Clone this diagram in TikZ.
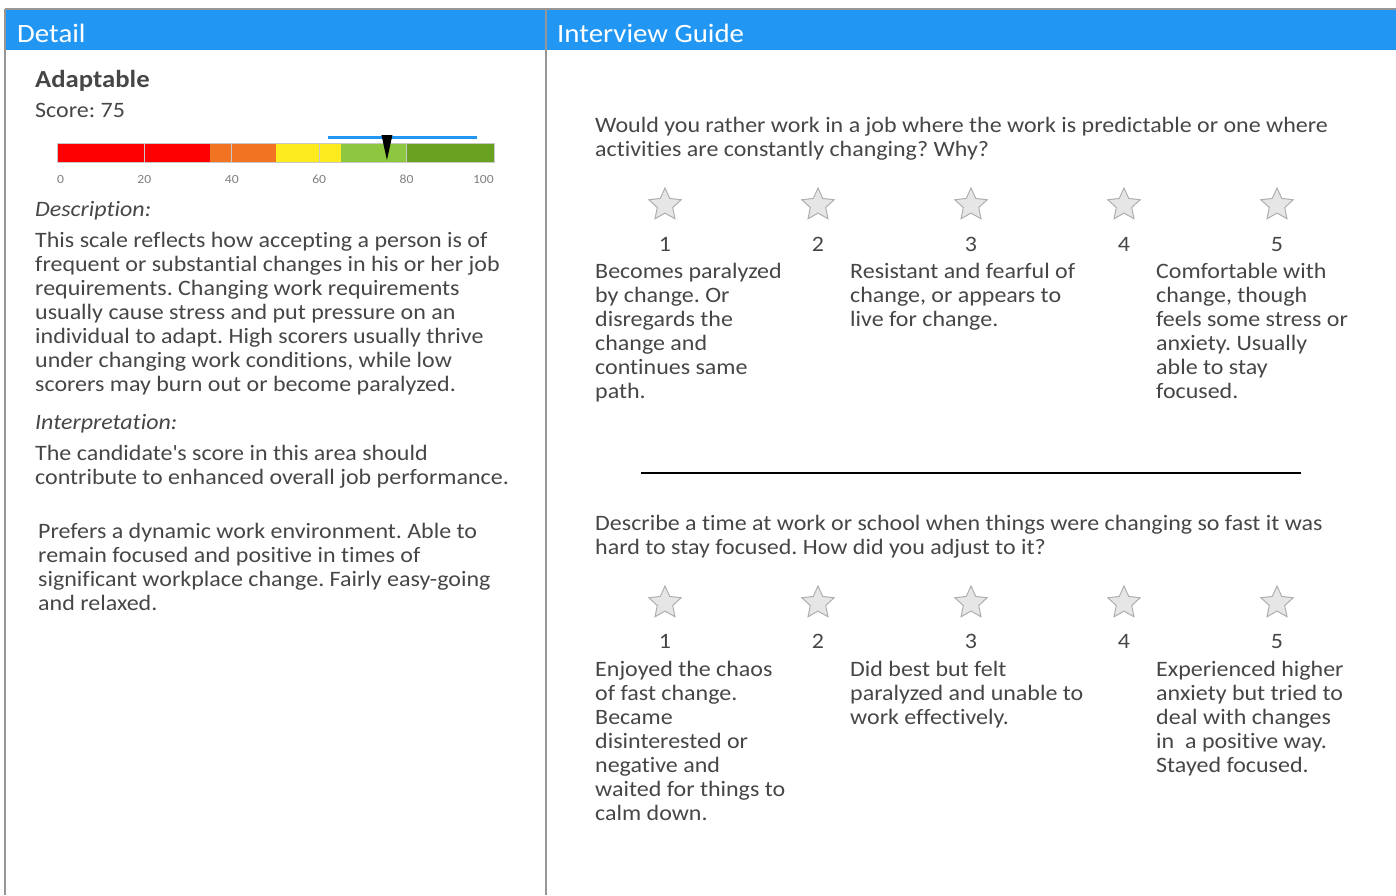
\documentclass[tikz,border=0pt]{standalone}
\usepackage{fontspec}
\setmainfont{Carlito}[Ligatures={TeX,NoCommon}, FakeStretch=1.09]
\usetikzlibrary{shapes.geometric, positioning}
\frenchspacing

\definecolor{headblue}{RGB}{33,150,243}
\definecolor{textgray}{RGB}{70,70,70}
\definecolor{framegray}{RGB}{150,150,150}
\definecolor{tickgray}{RGB}{128,128,128}
\definecolor{gridgray}{RGB}{200,200,200}
\definecolor{stargray}{RGB}{175,175,175}
\definecolor{starfill}{RGB}{230,230,230}
\definecolor{gred}{RGB}{255,0,0}
\definecolor{gorange}{RGB}{242,115,34}
\definecolor{gyellow}{RGB}{253,235,32}
\definecolor{glight}{RGB}{141,198,63}
\definecolor{gdark}{RGB}{105,161,33}

\begin{document}
\begin{tikzpicture}[
  x=1pt, y=-1pt,
  % Text styles
  panel title/.style={
    anchor=base west, inner sep=0pt, text=white,
    font=\fontsize{26.5}{30}\selectfont,
  },
  line label/.style={
    anchor=base west, inner sep=0pt, text=textgray,
    font=\fontsize{22}{24}\selectfont,
  },
  section head/.style={
    line label, font=\fontsize{22}{24}\selectfont\itshape,
  },
  body text/.style={
    anchor=north west, inner sep=0pt, align=left, text=textgray,
    font=\fontsize{22}{24}\selectfont, execute at begin node=\strut,
  },
  tick label/.style={
    anchor=base, inner sep=0pt, text=tickgray,
    font=\fontsize{12.5}{15}\selectfont,
  },
  % Rating row
  rating star/.style={
    star, star points=5, star point ratio=2.1, minimum size=34pt,
    inner sep=0pt, draw=stargray, fill=starfill, line width=1pt,
  },
  rating num/.style={
    anchor=base, inner sep=0pt, text=textgray,
    font=\fontsize{22}{24}\selectfont,
  },
]
\useasboundingbox (0,0) rectangle (1396,895);

% --- Frame and header bar ---
\fill[headblue] (5,10) rectangle (1396,50);
\draw[framegray, line width=2pt] (5,9) -- (1396,9);
\draw[framegray, line width=1.5pt] (5,9) -- (5,895);
\draw[framegray, line width=1.5pt] (546,9) -- (546,895);

\node[panel title] (detail) at (17,42) {Detail};
\node[panel title] (guide) at (557,42) {Interview Guide};

% --- Left panel ---
\node[line label, font=\fontsize{24.5}{28}\selectfont\bfseries] (trait) at (35,87) {Adaptable};
\node[line label] (score) at (35,117) {Score: 75};

% gauge, in units of score
\begin{scope}[shift={(57,0)}, x=4.37pt]
  \foreach \a/\b/\c in {0/35/gred, 35/50/gorange, 50/65/gyellow, 65/80/glight, 80/100/gdark}
    \fill[\c] (\a,143) rectangle (\b,162);
  \foreach \v in {20,40,60,80}
    \draw[gridgray, line width=1pt] (\v,143) -- (\v,162);
  \draw[gridgray, line width=1pt] (0,143) rectangle (100,162);
  \draw[headblue, line width=3pt] (62,137.5) -- (96,137.5);
  \coordinate (mark) at (75.5,135);
  \fill[black] ([xshift=-5.5pt]mark) -- ([xshift=5.5pt]mark) -- ([yshift=-25pt]mark) -- cycle;

  \node[tick label, anchor=base west] (t0) at (0,183.5) {0};
  \foreach \v in {20,40,60,80}
    \node[tick label] (t\v) at (\v,183.5) {\v};
  \node[tick label, anchor=base east] (t100) at (100,183.5) {100};
\end{scope}

\node[section head] (desc head) at (35,216) {Description:};
\node[body text] (desc) at (35,232) {This scale reflects how accepting a person is of\\
  frequent or substantial changes in his or her job\\
  requirements. Changing work requirements\\
  usually cause stress and put pressure on an\\
  individual to adapt. High scorers usually thrive\\
  under changing work conditions, while low\\
  scorers may burn out or become paralyzed.};

\node[section head] (interp head) at (35,429) {Interpretation:};
\node[body text] (interp) at (35,445) {The candidate\textquotesingle s score in this area should\\
  contribute to enhanced overall job performance.};

\node[body text] (summary) at (38,523) {Prefers a dynamic work environment. Able to\\
  remain focused and positive in times of\\
  significant workplace change. Fairly easy-going\\
  and relaxed.};

% --- Right panel: question 1 ---
\node[body text] (qa) at (595,117) {Would you rather work in a job where the work is predictable or one where\\
  activities are constantly changing? Why?};

\foreach \i [evaluate=\i as \x using 512+153*\i] in {1,...,5} {
  \node[rating star] (qa-star-\i) at (\x,205) {};
  \node[rating num] (qa-num-\i) at (\x,251) {\i};
}

\node[body text] (qa-low) at (595,263) {Becomes paralyzed\\ by change. Or\\ disregards the\\ change and\\ continues same\\ path.};
\node[body text] (qa-mid) at (850,263) {Resistant and fearful of\\ change, or appears to\\ live for change.};
\node[body text] (qa-high) at (1156,263) {Comfortable with\\ change, though\\ feels some stress or\\ anxiety. Usually\\ able to stay\\ focused.};

\draw[black, line width=2.5pt] (641,473) -- (1301,473);

% --- Right panel: question 2 ---
\node[body text] (qb) at (595,515) {Describe a time at work or school when things were changing so fast it was\\
  hard to stay focused. How did you adjust to it?};

\foreach \i [evaluate=\i as \x using 512+153*\i] in {1,...,5} {
  \node[rating star] (qb-star-\i) at (\x,603) {};
  \node[rating num] (qb-num-\i) at (\x,648) {\i};
}

\node[body text] (qb-low) at (595,661) {Enjoyed the chaos\\ of fast change.\\ Became\\ disinterested or\\ negative and\\ waited for things to\\ calm down.};
\node[body text] (qb-mid) at (850,661) {Did best but felt\\ paralyzed and unable to\\ work effectively.};
\node[body text] (qb-high) at (1156,661) {Experienced higher\\ anxiety but tried to\\ deal with changes\\ in~ a positive way.\\ Stayed focused.};
\end{tikzpicture}
\end{document}
